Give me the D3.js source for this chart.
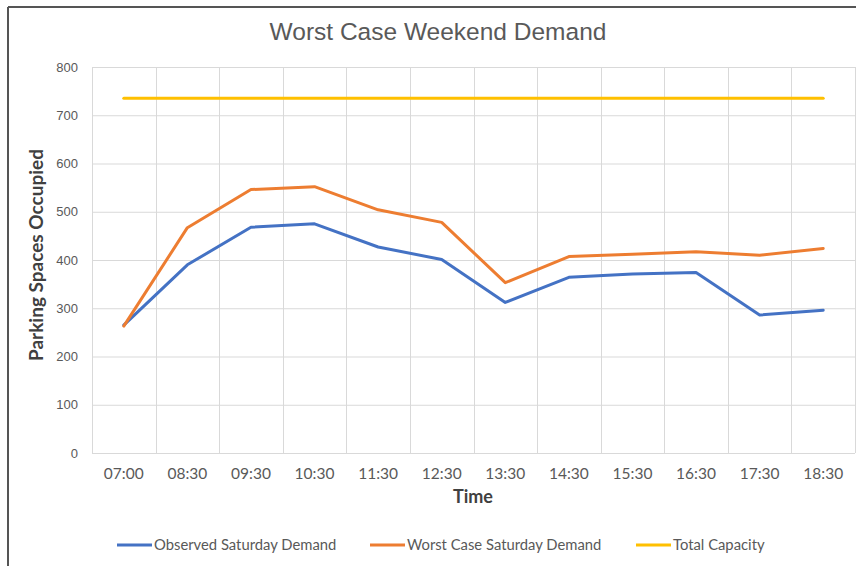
<!DOCTYPE html>
<html>
<head>
<meta charset="utf-8">
<script src="https://cdn.jsdelivr.net/npm/d3@7"></script>
<style>
  body { margin: 0; background: #fff; }
  svg { display: block; }
</style>
</head>
<body>
<script>
// chart data
var times = ["07:00", "08:30", "09:30", "10:30", "11:30", "12:30", "13:30", "14:30", "15:30", "16:30", "17:30", "18:30"];
var observed = [265, 390, 468, 475, 427, 401, 312, 364, 371, 374, 286, 296];
var worstCase = [263, 467, 546, 552, 504, 478, 353, 407, 412, 417, 410, 424];
var capacity = [735, 735, 735, 735, 735, 735, 735, 735, 735, 735, 735, 735];
var yTicks = [0, 100, 200, 300, 400, 500, 600, 700, 800];

var series = [
    { name: "Observed Saturday Demand", values: observed, color: "#4472C4" },
    { name: "Worst Case Saturday Demand", values: worstCase, color: "#ED7D31" },
    { name: "Total Capacity", values: capacity, color: "#FFC000" }
];

var width = 856, height = 566;

var svg = d3.select("body")
    .append("svg")
    .attr("width", width)
    .attr("height", height);

// outer frame (only top and left edges show in the picture)
svg.append("line")
    .attr("x1", 8).attr("x2", width).attr("y1", 7).attr("y2", 7)
    .style("stroke", "#555").style("stroke-width", 2);
svg.append("line")
    .attr("x1", 8).attr("x2", 8).attr("y1", 7).attr("y2", height)
    .style("stroke", "#555").style("stroke-width", 2);

var plot = { left: 92, right: 855, top: 67, bottom: 453 };

var x = d3.scaleBand()
    .domain(times)
    .range([plot.left, plot.right]);

var y = d3.scaleLinear()
    .domain([0, 800])
    .range([plot.bottom, plot.top]);

var grid = svg.append("g").attr("class", "grid");

// horizontal gridlines
grid.selectAll("line.h")
    .data(yTicks)
    .enter()
    .append("line")
    .attr("class", "h")
    .attr("x1", plot.left)
    .attr("x2", plot.right)
    .attr("y1", function (d) { return y(d) + 0.5; })
    .attr("y2", function (d) { return y(d) + 0.5; })
    .style("stroke", "#d9d9d9")
    .style("stroke-width", 1);

// vertical gridlines, between categories
var bounds = times.map(function (t) { return x(t); }).concat([plot.right]);
grid.selectAll("line.v")
    .data(bounds)
    .enter()
    .append("line")
    .attr("class", "v")
    .attr("x1", function (d) { return Math.round(d) + 0.5; })
    .attr("x2", function (d) { return Math.round(d) + 0.5; })
    .attr("y1", plot.top)
    .attr("y2", plot.bottom)
    .style("stroke", "#d9d9d9")
    .style("stroke-width", 1);

// y tick labels
svg.append("g")
    .selectAll("text")
    .data(yTicks)
    .enter()
    .append("text")
    .attr("x", 78)
    .attr("y", function (d) { return y(d); })
    .attr("dy", "0.35em")
    .attr("text-anchor", "end")
    .style("font-family", "'Liberation Sans', Arial, sans-serif")
    .style("font-size", "13px")
    .style("fill", "#595959")
    .text(function (d) { return d; });

// x tick labels
svg.append("g")
    .selectAll("text")
    .data(times)
    .enter()
    .append("text")
    .attr("x", function (d) { return x(d) + x.bandwidth() / 2; })
    .attr("y", 474)
    .attr("dy", "0.35em")
    .attr("text-anchor", "middle")
    .style("font-family", "Lato, 'Noto Sans', sans-serif")
    .style("font-size", "15.5px")
    .style("fill", "#595959")
    .text(function (d) { return d; });

// lines
var line = d3.line()
    .x(function (d, i) { return x(times[i]) + x.bandwidth() / 2; })
    .y(function (d) { return y(d); });

svg.append("g")
    .selectAll("path")
    .data(series)
    .enter()
    .append("path")
    .attr("d", function (d) { return line(d.values); })
    .style("fill", "none")
    .style("stroke", function (d) { return d.color; })
    .style("stroke-width", 3)
    .style("stroke-linejoin", "round")
    .style("stroke-linecap", "round");

// title
svg.append("text")
    .attr("x", 438)
    .attr("y", 31)
    .attr("dy", "0.35em")
    .attr("text-anchor", "middle")
    .style("font-family", "'Liberation Sans', Arial, sans-serif")
    .style("font-size", "24.5px")
    .style("fill", "#595959")
    .text("Worst Case Weekend Demand");

// axis titles
svg.append("text")
    .attr("transform", "translate(36,255) rotate(-90)")
    .attr("dy", "0.35em")
    .attr("text-anchor", "middle")
    .style("font-family", "Lato, 'Noto Sans', sans-serif")
    .style("font-size", "19px")
    .style("font-weight", "bold")
    .style("fill", "#404040")
    .text("Parking Spaces Occupied");

svg.append("text")
    .attr("x", 473)
    .attr("y", 497)
    .attr("dy", "0.35em")
    .attr("text-anchor", "middle")
    .style("font-family", "Lato, 'Noto Sans', sans-serif")
    .style("font-size", "18px")
    .style("font-weight", "bold")
    .style("fill", "#404040")
    .text("Time");

// legend
var legendX = [117, 370, 636];
var legend = svg.append("g")
    .selectAll("g")
    .data(series)
    .enter()
    .append("g")
    .attr("transform", function (d, i) { return "translate(" + legendX[i] + ",545)"; });

legend.append("line")
    .attr("x1", 0).attr("x2", 35)
    .attr("y1", 0).attr("y2", 0)
    .style("stroke", function (d) { return d.color; })
    .style("stroke-width", 3);

legend.append("text")
    .attr("x", 37)
    .attr("y", 0)
    .attr("dy", "0.35em")
    .style("font-family", "Lato, 'Noto Sans', sans-serif")
    .style("font-size", "14.8px")
    .style("fill", "#595959")
    .text(function (d) { return d.name; });
</script>
</body>
</html>
